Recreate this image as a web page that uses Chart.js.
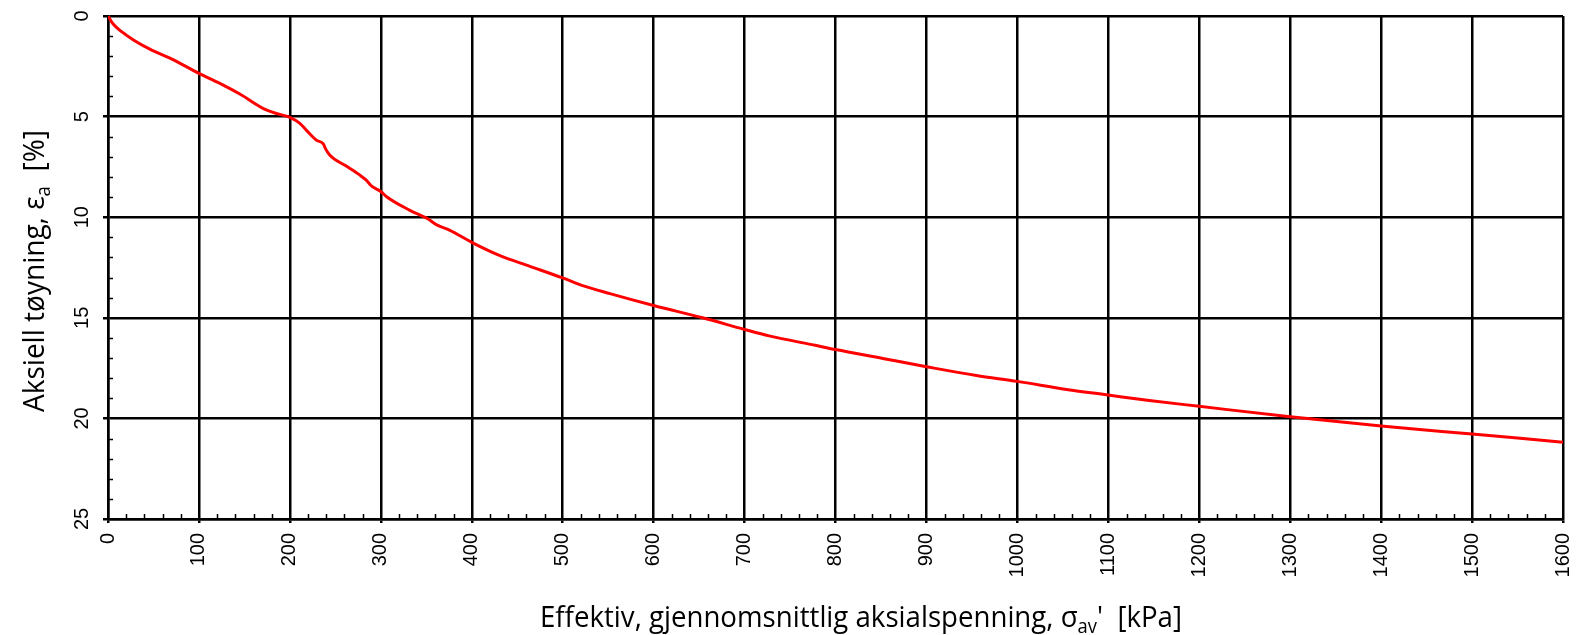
<!DOCTYPE html>
<html>
<head>
<meta charset="utf-8">
<script src="https://cdn.jsdelivr.net/npm/chart.js@4/dist/chart.umd.min.js"></script>
<style>
  html, body { margin: 0; padding: 0; background: #fff; }
  #wrap { width: 1588px; height: 635px; }
</style>
</head>
<body>
<div id="wrap"><canvas id="chart" width="1588" height="635"></canvas></div>
<script>
// Effective mean axial stress (kPa) and axial strain (%)
const stress = [0, 5, 15, 28, 46, 72, 100, 123, 145, 174, 189, 200, 211, 218, 229, 237, 239, 244,
    262, 277, 284, 290, 300, 306, 332, 352, 361, 376, 400, 431, 464, 500, 522, 552, 600, 654,
    700, 727, 779, 800, 852, 900, 955, 1000, 1054, 1100, 1145, 1200, 1300, 1400, 1500, 1600];
const strain = [0, 0.36, 0.78, 1.19, 1.65, 2.18, 2.85, 3.35, 3.88, 4.67, 4.89, 5.04, 5.34, 5.67, 6.17, 6.37, 6.58, 6.92,
    7.46, 7.91, 8.16, 8.46, 8.72, 8.97, 9.66, 10.09, 10.37, 10.65, 11.25, 11.91, 12.44, 13.02, 13.40, 13.80, 14.39, 15.0,
    15.58, 15.90, 16.38, 16.58, 17.02, 17.43, 17.87, 18.16, 18.56, 18.84, 19.11, 19.40, 19.92, 20.38, 20.78, 21.18];

// Axis ranges and tick labels
const xRange = [0, 1600];
const xStep = 100;
const xMinorStep = 20;
const yTicks = [0, 5, 10, 15, 20, 25];
const yMinorStep = 1;

const tickFont = '20px "Liberation Sans", Arial, sans-serif';
const titleFamily = '"Open Sans", "Noto Sans", sans-serif';

// Minor tick marks, drawn inside the plot area
const minorTicks = {
    id: 'minorTicks',
    beforeDatasetsDraw(chart) {
        const ctx = chart.ctx;
        const area = chart.chartArea;
        const xs = chart.scales.x;
        const ys = chart.scales.y;
        ctx.save();
        ctx.strokeStyle = '#000';
        ctx.lineWidth = 1.5;
        ctx.beginPath();
        for (let v = xRange[0]; v <= xRange[1]; v += xMinorStep) {
            if (v % xStep === 0) continue;
            const px = Math.round(xs.getPixelForValue(v)) + 0.5;
            ctx.moveTo(px, area.bottom);
            ctx.lineTo(px, area.bottom - 5);
        }
        for (let v = yTicks[0]; v <= yTicks[yTicks.length - 1]; v += yMinorStep) {
            if (yTicks.includes(v)) continue;
            const py = Math.round(ys.getPixelForValue(v)) + 0.5;
            ctx.moveTo(area.left, py);
            ctx.lineTo(area.left + 5, py);
        }
        ctx.stroke();
        ctx.restore();
    }
};

// Y tick labels are rotated like the x ones
const yTickLabels = {
    id: 'yTickLabels',
    afterDraw(chart) {
        const ctx = chart.ctx;
        const ys = chart.scales.y;
        const x = chart.chartArea.left - 21;
        ctx.save();
        ctx.font = tickFont;
        ctx.fillStyle = '#000';
        ctx.textAlign = 'center';
        ctx.textBaseline = 'alphabetic';
        yTicks.forEach(v => {
            ctx.save();
            ctx.translate(x, ys.getPixelForValue(v));
            ctx.rotate(-Math.PI / 2);
            ctx.fillText(String(v), 0, 1);
            ctx.restore();
        });
        ctx.restore();
    }
};

// Text with subscripts, squeezed to a given width (centered on origin)
function drawRich(ctx, parts, size, targetWidth) {
    const subSize = Math.round(size * 0.66);
    let total = 0;
    parts.forEach(p => {
        ctx.font = (p.sub ? subSize : size) + 'px ' + titleFamily;
        p.w = ctx.measureText(p.t).width;
        total += p.w;
    });
    ctx.scale(targetWidth / total, 1);
    let x = -total / 2;
    parts.forEach(p => {
        ctx.font = (p.sub ? subSize : size) + 'px ' + titleFamily;
        ctx.fillText(p.t, x, p.sub ? size * 0.2 : 0);
        x += p.w;
    });
}

const axisTitles = {
    id: 'axisTitles',
    afterDraw(chart) {
        const ctx = chart.ctx;
        ctx.save();
        ctx.fillStyle = '#000';
        ctx.textAlign = 'left';
        ctx.textBaseline = 'alphabetic';

        ctx.save();
        ctx.translate(861, 627);
        drawRich(ctx, [
            { t: 'Effektiv, gjennomsnittlig aksialspenning, σ' },
            { t: 'av', sub: true },
            { t: "'  [kPa]" }
        ], 30, 642);
        ctx.restore();

        ctx.save();
        ctx.translate(44, 271);
        ctx.rotate(-Math.PI / 2);
        drawRich(ctx, [
            { t: 'Aksiell tøyning, ε' },
            { t: 'a', sub: true },
            { t: '  [%]' }
        ], 30, 282);
        ctx.restore();

        ctx.restore();
    }
};

const points = stress.map((s, i) => ({ x: s, y: strain[i] }));

new Chart(document.getElementById('chart'), {
    type: 'line',
    data: {
        datasets: [{
            data: points,
            borderColor: '#ff0000',
            borderWidth: 3,
            pointRadius: 0,
            fill: false,
            cubicInterpolationMode: 'monotone'
        }]
    },
    options: {
        responsive: false,
        animation: false,
        devicePixelRatio: 1,
        layout: { padding: { left: 0, top: 16, right: 25, bottom: 0 } },
        plugins: {
            legend: { display: false },
            tooltip: { enabled: false }
        },
        scales: {
            x: {
                type: 'linear',
                min: xRange[0],
                max: xRange[1],
                afterFit(scale) {
                    scale.height = 116;
                    scale.paddingLeft = 0;
                    scale.paddingRight = 0;
                },
                ticks: {
                    stepSize: xStep,
                    minRotation: 90,
                    maxRotation: 90,
                    autoSkip: false,
                    padding: 10,
                    color: '#000',
                    font: { family: '"Liberation Sans", Arial, sans-serif', size: 20 },
                    callback: v => String(v)
                },
                grid: { color: '#000', lineWidth: 2.5, tickLength: 4 },
                border: { color: '#000', width: 2.5 }
            },
            y: {
                type: 'linear',
                reverse: true,
                min: yTicks[0],
                max: yTicks[yTicks.length - 1],
                afterFit(scale) { scale.width = 108; },
                ticks: { stepSize: 5, display: false },
                grid: { color: '#000', lineWidth: 2.5, tickLength: 5 },
                border: { color: '#000', width: 2.5 }
            }
        }
    },
    plugins: [minorTicks, yTickLabels, axisTitles]
});
</script>
</body>
</html>
